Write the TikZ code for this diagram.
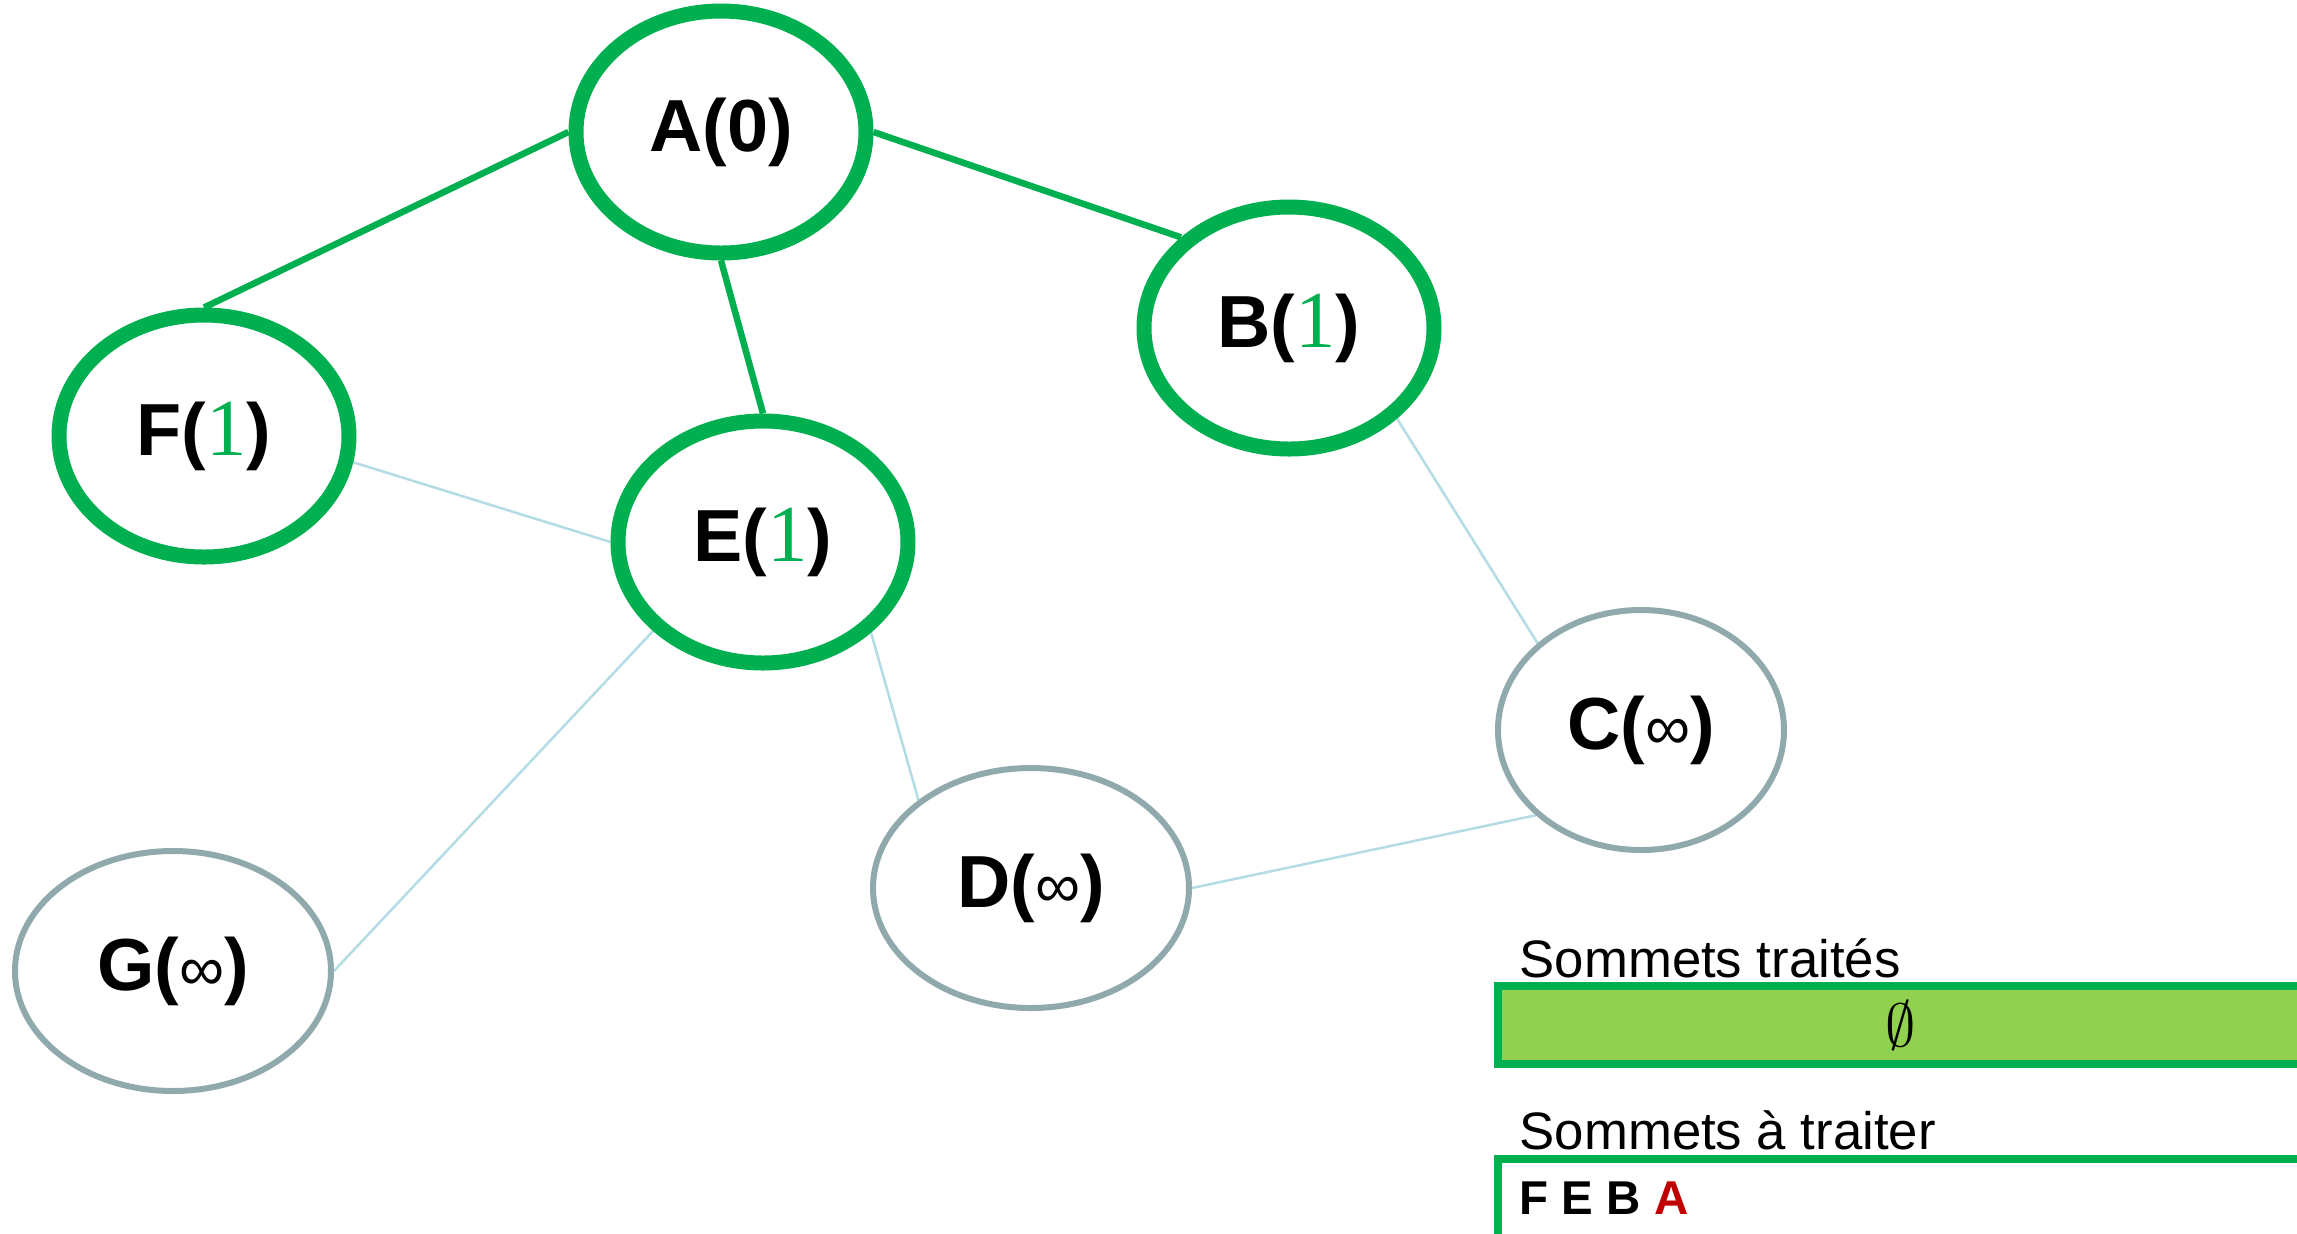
\documentclass[tikz,border=0pt]{standalone}
\usepackage{fontspec}
\setmainfont{Liberation Sans}
\newfontfamily\chiffre{Liberation Serif}
\usetikzlibrary{shapes.geometric,backgrounds}

\definecolor{vert}{HTML}{00B050}
\definecolor{vertclair}{HTML}{92D050}
\definecolor{gris}{HTML}{8FA9AC}
\definecolor{bleuclair}{HTML}{B4DCE4}
\definecolor{rouge}{HTML}{C00000}

% distance provisoire et distance infinie
\newcommand{\dist}[1]{{\fontsize{23}{23}\selectfont\chiffre\mdseries\color{vert}#1}}
\newcommand{\infini}{{\fontsize{18}{18}\selectfont\mdseries ∞}}

\tikzset{
  sommet/.style={ellipse, draw=gris, line width=0.6mm, fill=white, inner sep=0pt,
    minimum width=3.16cm, minimum height=2.4cm,
    font=\fontsize{21}{21}\selectfont\bfseries},
  atteint/.style={draw=vert, line width=1.5mm, minimum width=2.9cm, minimum height=2.42cm},
  arete/.style={draw=bleuclair, line width=0.25mm},
  chemin/.style={draw=vert, line width=0.65mm},
  liste/.style={draw=vert, line width=0.8mm, inner sep=0pt, anchor=north west,
    minimum width=8.06cm},
  titre/.style={anchor=base west, inner sep=0pt, font=\fontsize{15}{15}\selectfont}
}

\begin{document}
\begin{tikzpicture}[x=0.1mm,y=-0.1mm]
    \useasboundingbox (0,0) rectangle (2297,1233);
    \clip (0,0) rectangle (2297,1233);

    % sommets
    \node[sommet,atteint] (A) at (721,132) {A(0)};
    \node[sommet,atteint] (B) at (1289,328) {B(\dist{1})};
    \node[sommet,atteint] (F) at (204,436) {F(\dist{1})};
    \node[sommet,atteint] (E) at (763,542) {E(\dist{1})};
    \node[sommet,minimum width=2.86cm] (C) at (1641,730) {C(\infini)};
    \node[sommet] (D) at (1031,888) {D(\infini)};
    \node[sommet] (G) at (173,971) {G(\infini)};

    % aretes
    \begin{scope}[on background layer]
        \fill[white] (0,0) rectangle (2297,1233);
        \draw[chemin] (A.west)--(F.north);
        \draw[chemin] (A.south)--(E.north);
        \draw[chemin] (A.east)--(B.140);
        \draw[arete] (F.-10)--(E.west);
        \draw[arete] (E.-141)--(G.east);
        \draw[arete] (E.-40)--(D.142);
        \draw[arete] (B.-40)--(C.140);
        \draw[arete] (D.east)--(C.-141);
    \end{scope}

    % listes
    \node[titre] (t1) at (1519,977) {Sommets traités};
    \node[liste,fill=vertclair,minimum height=0.78cm,font=\fontsize{17}{17}\selectfont] (traites) at (1494,982) {$\emptyset$};
    \node[titre] (t2) at (1519,1149) {Sommets à traiter};
    \node[liste,minimum height=1cm] (atraiter) at (1494,1155) {};
    \node[anchor=base west,inner sep=0pt,font=\fontsize{13.5}{13.5}\selectfont\bfseries] (file) at (1519,1214) {F E B \textcolor{rouge}{A}};
\end{tikzpicture}
\end{document}
